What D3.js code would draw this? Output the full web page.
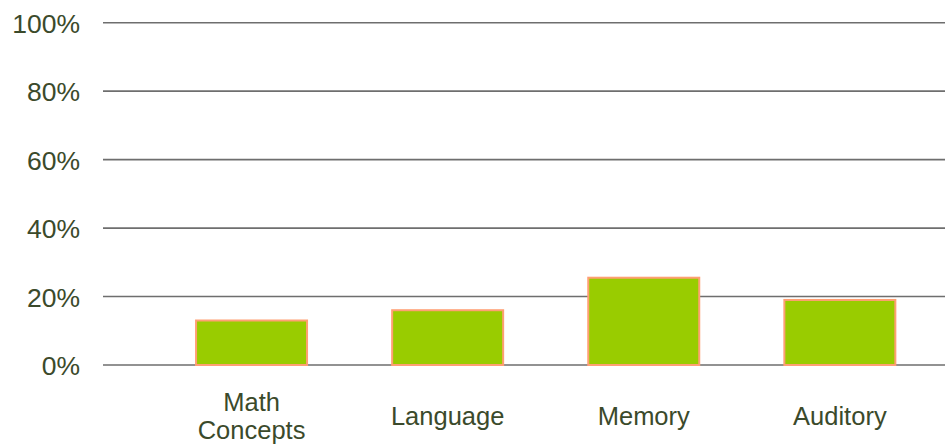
<!DOCTYPE html>
<html>
<head>
<meta charset="utf-8">
<script src="https://cdn.jsdelivr.net/npm/d3@7"></script>
<style>
  html, body { margin: 0; padding: 0; background: #fff; }
  svg { display: block; }
  text { font-family: "Liberation Sans", Arial, sans-serif; }
</style>
</head>
<body>
<svg id="chart" width="945" height="447"></svg>
<script>
const categories = ["Math\nConcepts", "Language", "Memory", "Auditory"];
const values = [13, 16, 25.5, 19];
const yTicks = [0, 20, 40, 60, 80, 100];

const svg = d3.select("#chart");
const x = d3.scaleBand().domain(categories).range([153.5, 937.9]).paddingInner(0.434).paddingOuter(0.217);
const y = d3.scaleLinear().domain([0, 100]).range([365, 22.7]);

// gridlines
svg.append("g").selectAll("line").data(yTicks).join("line")
  .attr("x1", 103).attr("x2", 945)
  .attr("y1", d => y(d)).attr("y2", d => y(d))
  .attr("stroke", "#6e6e6e").attr("stroke-width", 1.6);

// y labels
svg.append("g").selectAll("text").data(yTicks).join("text")
  .attr("x", 80).attr("y", d => y(d))
  .attr("dy", "0.38em")
  .attr("text-anchor", "end")
  .attr("font-size", 26.5)
  .attr("fill", "#3b4a2b")
  .text(d => d + "%");

// bars
svg.append("g").selectAll("rect").data(values).join("rect")
  .attr("x", (d, i) => x(categories[i]))
  .attr("y", d => y(d))
  .attr("width", x.bandwidth())
  .attr("height", d => y(0) - y(d))
  .attr("fill", "#99cc00")
  .attr("stroke", "#ff9f73")
  .attr("stroke-width", 2);

// category labels
const cl = svg.append("g").selectAll("text").data(categories).join("text")
  .attr("text-anchor", "middle")
  .attr("font-size", 25.5)
  .attr("fill", "#3b4a2b")
  .attr("transform", d => `translate(${x(d) + x.bandwidth() / 2},0)`);
cl.each(function(d) {
  const lines = d.split("\n");
  const t = d3.select(this);
  const base = lines.length === 1 ? 425 : 411;
  lines.forEach((ln, j) => {
    t.append("tspan").attr("x", 0).attr("y", base + j * 28).text(ln);
  });
});
</script>
</body>
</html>
